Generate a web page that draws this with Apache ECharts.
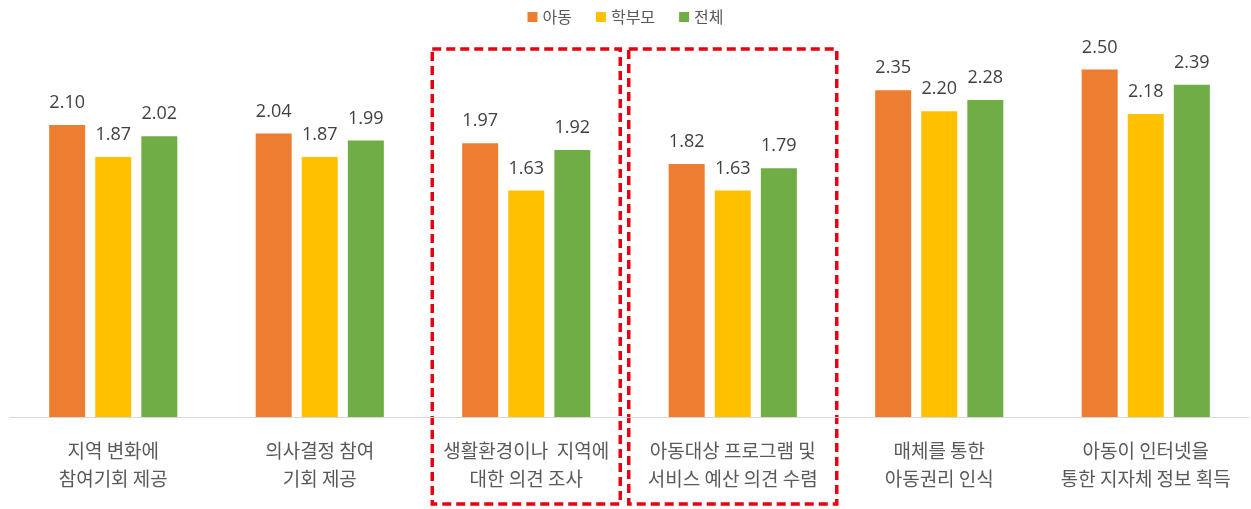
<!DOCTYPE html>
<html><head><meta charset="utf-8">
<script src="https://cdn.jsdelivr.net/npm/echarts@6/dist/echarts.min.js"></script>
<style>html,body{margin:0;padding:0;background:#fff}#c{width:1251px;height:509px}</style>
</head><body><div id="c"></div>
<script>
const categories = ['지역 변화에\n참여기회 제공','의사결정 참여\n기회 제공','생활환경이나  지역에\n대한 의견 조사','아동대상 프로그램 및\n서비스 예산 의견 수렴','매체를 통한\n아동권리 인식','아동이 인터넷을\n통한 지자체 정보 획득'];
const seriesNames = ['아동','학부모','전체'];
const childVals = [2.10, 2.04, 1.97, 1.82, 2.35, 2.50];
const parentVals = [1.87, 1.87, 1.63, 1.63, 2.20, 2.18];
const totalVals = [2.02, 1.99, 1.92, 1.79, 2.28, 2.39];
const highlighted = [2, 3];
const colors = ['#ED7D31','#FFC000','#70AD47'];
const FONT = '"Noto Sans CJK KR", "Noto Sans", sans-serif';

const chart = echarts.init(document.getElementById('c'));
function mk(name, data, color){
  return {name, type:'bar', data, barWidth:36, barGap:'28%',
    itemStyle:{color},
    label:{show:true, position:'top', distance:13, color:'#404040', fontSize:18, fontFamily:'"Open Sans", "Noto Sans", sans-serif',
      formatter:p=>p.value.toFixed(2)}};
}
chart.setOption({
  animation:false,
  textStyle:{fontFamily:FONT},
  legend:{top:4, left:'center', itemWidth:10, itemHeight:10, itemGap:24, icon:'rect',
    textStyle:{fontSize:16, color:'#595959', fontFamily:FONT}},
  grid:{left:10, right:2, top:0, bottom:92, containLabel:false},
  xAxis:{type:'category', data:categories,
    axisLine:{lineStyle:{color:'#D9D9D9', width:1}}, axisTick:{show:false},
    axisLabel:{color:'#595959', fontSize:19, lineHeight:28, margin:20, interval:0, fontFamily:FONT}},
  yAxis:{type:'value', min:0, max:3, show:false, splitLine:{show:false}},
  series:[mk(seriesNames[0], childVals, colors[0]), mk(seriesNames[1], parentVals, colors[1]), mk(seriesNames[2], totalVals, colors[2])]
});
const halfW = [94, 104];
const g = highlighted.map((ci, k) => {
  const cx = chart.convertToPixel({xAxisIndex:0}, categories[ci]);
  return {type:'rect', shape:{x:cx - halfW[k], y:49, width:halfW[k]*2, height:455},
    style:{fill:null, stroke:'#E60012', lineWidth:3.5, lineDash:[9,5]}};
});
chart.setOption({graphic:g});
</script></body></html>
